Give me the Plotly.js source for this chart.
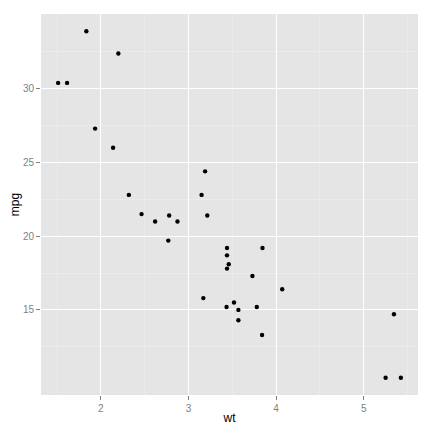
<!DOCTYPE html>
<html>
<head>
<meta charset="utf-8">
<script src="https://cdn.plot.ly/plotly-3.0.1.min.js"></script>
<style>
  html, body { margin: 0; padding: 0; background: #fff; }
  #chart { width: 432px; height: 432px; }
</style>
</head>
<body>
<div id="chart"></div>
<script>
// mtcars: weight vs miles per gallon
var wt = [2.620, 2.875, 2.320, 3.215, 3.440, 3.460, 3.570, 3.190, 3.150, 3.440,
          3.440, 4.070, 3.730, 3.780, 5.250, 5.424, 5.345, 2.200, 1.615, 1.835,
          2.465, 3.520, 3.435, 3.840, 3.845, 1.935, 2.140, 1.513, 3.170, 2.770,
          3.570, 2.780];
var mpg = [21.0, 21.0, 22.8, 21.4, 18.7, 18.1, 14.3, 24.4, 22.8, 19.2,
           17.8, 16.4, 17.3, 15.2, 10.4, 10.4, 14.7, 32.4, 30.4, 33.9,
           21.5, 15.5, 15.2, 13.3, 19.2, 27.3, 26.0, 30.4, 15.8, 19.7,
           15.0, 21.4];
var xTicks = [2, 3, 4, 5];
var yTicks = [15, 20, 25, 30];

var trace = {
  x: wt,
  y: mpg,
  type: 'scatter',
  mode: 'markers',
  marker: { color: '#000000', size: 4.4 },
  hoverinfo: 'x+y'
};

var axisCommon = {
  showline: false,
  zeroline: false,
  gridcolor: '#ffffff',
  gridwidth: 1,
  ticks: 'outside',
  ticklen: 4,
  tickwidth: 1,
  tickcolor: '#7f7f7f',
  tickfont: { family: 'Liberation Sans, Arial, sans-serif', size: 10, color: '#7f7f7f' }
};

// ggplot pads the data range by 5% on each side
function padded(arr) {
  var lo = Math.min.apply(null, arr), hi = Math.max.apply(null, arr);
  var d = (hi - lo) * 0.05;
  return [lo - d, hi + d];
}

var layout = {
  width: 432,
  height: 432,
  margin: { l: 41, r: 14, t: 14, b: 37 },
  paper_bgcolor: '#ffffff',
  plot_bgcolor: '#e5e5e5',
  showlegend: false,
  xaxis: Object.assign({}, axisCommon, {
    range: padded(wt),
    tickmode: 'array',
    tickvals: xTicks,
    ticktext: xTicks.map(String),
    minor: { dtick: 0.5, tick0: 1.5, showgrid: true, gridcolor: '#f2f2f2', gridwidth: 0.5, ticks: '' },
    title: { text: 'wt', standoff: 0, font: { family: 'Liberation Sans, Arial, sans-serif', size: 12, color: '#000' } }
  }),
  yaxis: Object.assign({}, axisCommon, {
    range: padded(mpg),
    tickmode: 'array',
    tickvals: yTicks,
    ticktext: yTicks.map(String),
    minor: { dtick: 5, tick0: 12.5, showgrid: true, gridcolor: '#f2f2f2', gridwidth: 0.5, ticks: '' },
    title: { text: 'mpg', standoff: 0, font: { family: 'Liberation Sans, Arial, sans-serif', size: 12, color: '#000' } }
  })
};

Plotly.newPlot('chart', [trace], layout, { displayModeBar: false, staticPlot: true });
</script>
</body>
</html>
